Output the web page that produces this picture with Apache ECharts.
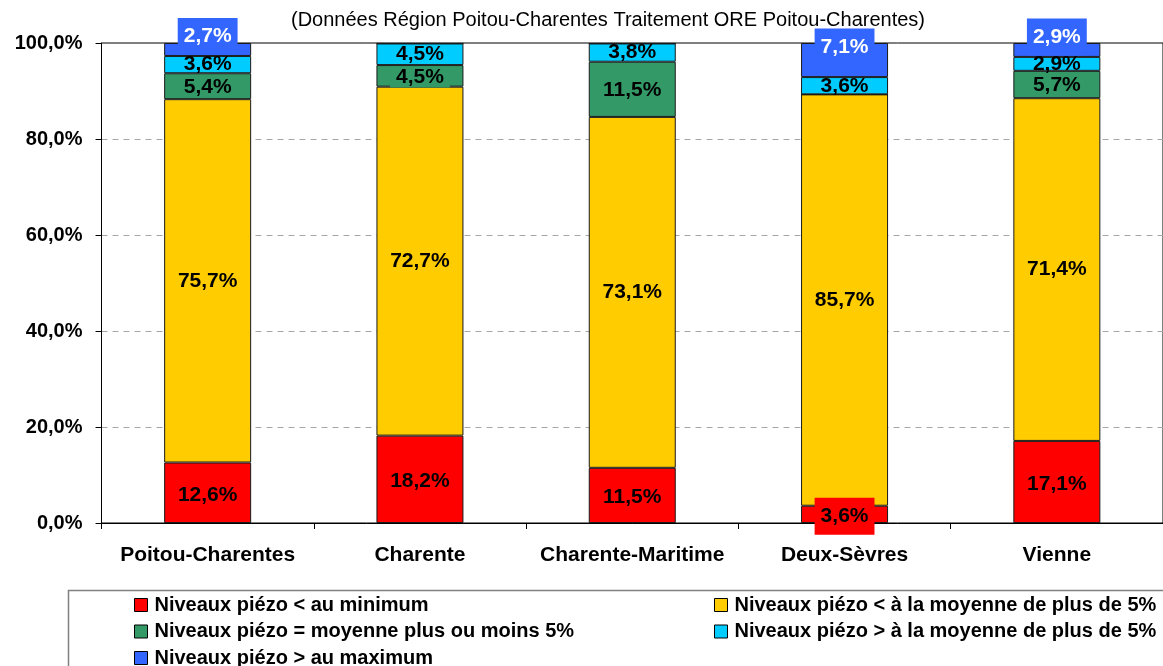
<!DOCTYPE html>
<html>
<head>
<meta charset="utf-8">
<script src="https://cdn.jsdelivr.net/npm/echarts@6/dist/echarts.min.js"></script>
<style>
  html, body { margin: 0; padding: 0; background: #fff; }
  #chart { width: 1163px; height: 666px; }
</style>
</head>
<body>
<div id="chart"></div>
<script>
var categories = ['Poitou-Charentes', 'Charente', 'Charente-Maritime', 'Deux-Sèvres', 'Vienne'];
var seriesNames = [
  'Niveaux piézo < au minimum',
  'Niveaux piézo < à la moyenne de plus de 5%',
  'Niveaux piézo = moyenne plus ou moins 5%',
  'Niveaux piézo > à la moyenne de plus de 5%',
  'Niveaux piézo > au maximum'
];
var belowMin = [12.6, 18.2, 11.5, 3.6, 17.1];
var belowAvg = [75.7, 72.7, 73.1, 85.7, 71.4];
var aroundAvg = [5.4, 4.5, 11.5, 0, 5.7];
var aboveAvg = [3.6, 4.5, 3.8, 3.6, 2.9];
var aboveMax = [2.7, 0, 0, 7.1, 2.9];
var yTicks = [0, 20, 40, 60, 80, 100];

var colors = ['#FF0000', '#FFCC00', '#339966', '#00CCFF', '#3366FF'];
var font = '"Liberation Sans", Arial, sans-serif';

function fr(v) {
  return v.toFixed(1).replace('.', ',') + '%';
}

// label style per series: blue & red get a filled box like the original
var labelStyles = [
  { color: '#000', backgroundColor: colors[0], padding: [8, 6], offset: [0, 2] },
  { color: '#000', padding: [0, 4], offset: [0, 0] },
  { color: '#000', backgroundColor: colors[2], padding: [0, 6], offset: [0, 1] },
  { color: '#000', padding: [0, 4], offset: [0, 0] },
  { color: '#fff', backgroundColor: colors[4], padding: [8, 6], offset: [0, -13] }
];

var allData = [belowMin, belowAvg, aroundAvg, aboveAvg, aboveMax];

var series = allData.map(function (arr, i) {
  var ls = labelStyles[i];
  return {
    name: seriesNames[i],
    type: 'bar',
    stack: 'total',
    barWidth: 87,
    itemStyle: { color: colors[i], borderColor: '#1a1a1a', borderWidth: 1 },
    label: {
      show: true,
      position: 'inside',
      fontFamily: font,
      fontWeight: 'bold',
      fontSize: 21,
      color: ls.color,
      backgroundColor: ls.backgroundColor || 'transparent',
      padding: ls.padding,
      offset: ls.offset,
      formatter: function (p) { return fr(p.value); }
    },
    data: arr.map(function (v) {
      return v === 0 ? { value: 0, label: { show: false } } : v;
    })
  };
});

// one legend per entry: 2 columns, 3 rows
var legends = seriesNames.map(function (name, i) {
  return {
    data: [name],
    left: i % 2 === 0 ? 134 : 714,
    top: 595 + Math.floor(i / 2) * 26.5,
    itemWidth: 13,
    itemHeight: 13,
    itemGap: 0,
    padding: 0,
    icon: 'rect',
    itemStyle: { borderColor: '#000', borderWidth: 1 },
    textStyle: { fontFamily: font, fontSize: 20, fontWeight: 'bold', color: '#000', padding: [0, 0, 0, 2] }
  };
});

var dom = echarts.init(document.getElementById('chart'));
var option = {
  backgroundColor: '#fff',
  animation: false,
  title: {
    text: '(Données Région Poitou-Charentes Traitement ORE Poitou-Charentes)',
    left: 286,
    top: 5,
    textStyle: { fontFamily: font, fontSize: 20, fontWeight: 'normal', color: '#000' }
  },
  grid: {
    left: 101.5,
    right: -8.5,
    top: 43,
    bottom: 143,
    show: true,
    borderColor: '#000',
    borderWidth: 1
  },
  legend: legends,
  graphic: [
    {
      type: 'rect',
      left: 66,
      top: 588,
      shape: { width: 1110, height: 100 },
      style: { fill: 'none', stroke: '#808080', lineWidth: 1.5 },
      z: -1
    }
  ],
  xAxis: {
    type: 'category',
    data: categories,
    axisLine: { show: true, lineStyle: { color: '#000', width: 1 } },
    axisTick: { show: true, length: 6, alignWithLabel: false, lineStyle: { color: '#000' } },
    axisLabel: { interval: 0, fontFamily: font, fontSize: 21, fontWeight: 'bold', color: '#000', margin: 22 }
  },
  yAxis: {
    type: 'value',
    min: yTicks[0],
    max: yTicks[yTicks.length - 1],
    interval: yTicks[1] - yTicks[0],
    axisLine: { show: true, lineStyle: { color: '#000', width: 1 } },
    axisTick: { show: true, length: 6, lineStyle: { color: '#000' } },
    axisLabel: {
      fontFamily: font, fontSize: 20, fontWeight: 'bold', color: '#000', margin: 19,
      formatter: function (v) { return fr(v); }
    },
    splitLine: {
      show: true,
      showMinLine: false,
      showMaxLine: false,
      lineStyle: { color: '#a6a6a6', type: [6, 5], width: 1 }
    }
  },
  series: series
};
dom.setOption(option);
window.addEventListener('resize', function () { dom.resize(); });
</script>
</body>
</html>
